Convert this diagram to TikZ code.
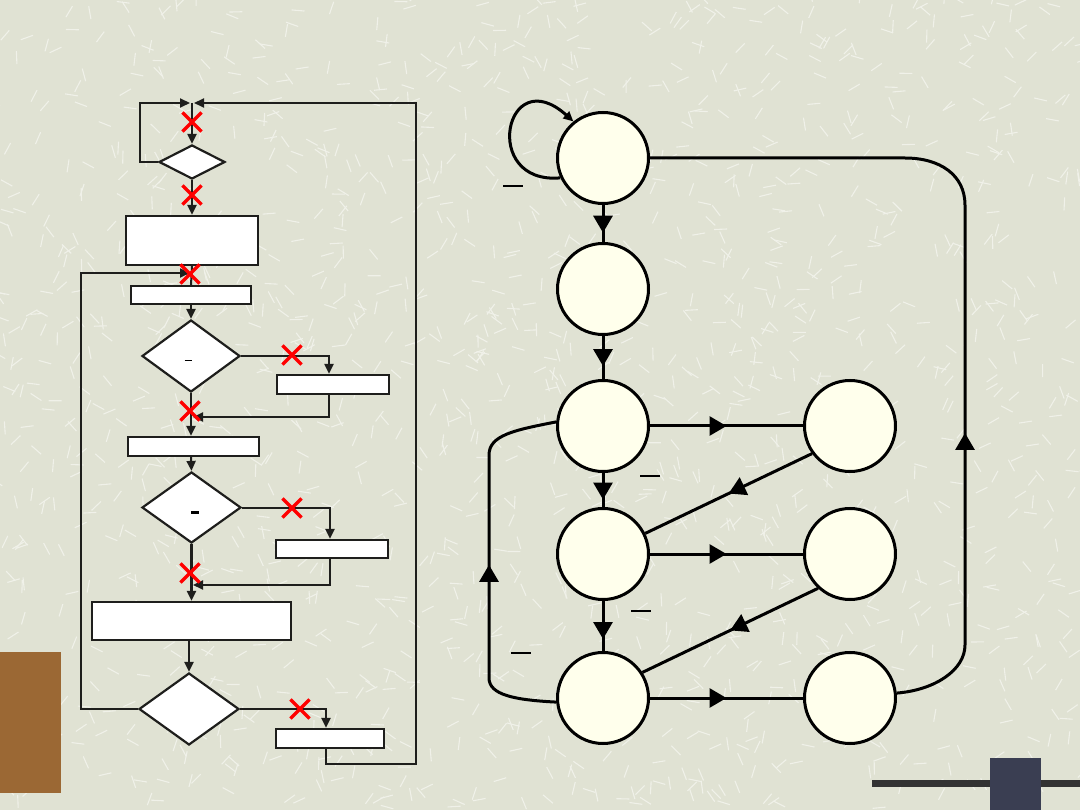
\documentclass[tikz,border=0pt]{standalone}
\usepackage{xcolor}
\usepackage{tikz}
\usetikzlibrary{automata, positioning, shapes.geometric, shapes.misc, arrows.meta, decorations.markings}

\definecolor{paper}{RGB}{224,226,211}
\definecolor{streakcol}{RGB}{240,241,233}
\definecolor{cream}{RGB}{255,255,236}
\definecolor{ink}{RGB}{30,30,28}
\definecolor{crossred}{RGB}{255,0,0}
\definecolor{tabbrown}{RGB}{155,104,52}
\definecolor{bardark}{RGB}{51,51,51}
\definecolor{sqnavy}{RGB}{58,62,82}

\tikzset{
  streak/.style={draw=streakcol, line width=1.1pt},
  flow/.style={draw=ink, line width=2pt},
  flowarr/.style={flow, -{Triangle[length=10pt,width=9pt]}},
  box/.style={rectangle, draw=ink, fill=white, line width=2.2pt, inner sep=0pt},
  decision/.style={diamond, draw=ink, fill=white, line width=2.2pt, inner sep=0pt},
  cut/.style={cross out, draw=crossred, line width=3.2pt, minimum size=16pt, inner sep=0pt},
  every state/.style={draw=black, fill=cream, line width=3pt, minimum size=91pt, inner sep=0pt},
  trans/.style={draw=black, line width=3pt},
  midarrow/.style={trans, postaction={decorate}, decoration={markings, mark=at position #1 with {\arrow{Triangle[length=17pt,width=19pt]}}}},
  bar/.style={inner sep=0pt, outer sep=0pt}
}

\begin{document}
\begin{tikzpicture}[x=1pt, y=-1pt]
    \fill[paper] (0,0) rectangle (1080,810);
    \useasboundingbox (0,0) rectangle (1080,810);
    % paper texture
    \pgfmathsetseed{7}
    \foreach \k in {1,...,1600}{
        \pgfmathsetmacro{\px}{rnd*1080}
        \pgfmathsetmacro{\py}{rnd*810}
        \pgfmathsetmacro{\pa}{rnd*180}
        \draw[streak] (\px,\py) -- ++(\pa:13pt);
    }
    \fill[tabbrown] (0,652) rectangle (61,793);
    \fill[bardark] (872,780) rectangle (1080,787);
    \fill[sqnavy] (990,758) rectangle (1041,810);

    % flowchart
    \coordinate (top) at (192,103);
    \node[decision, minimum width=66pt, minimum height=34pt] (d1) at (192,162) {};
    \node[box, minimum width=132pt, minimum height=49pt] (b1) at (192,240.5) {};
    \node[box, minimum width=120pt, minimum height=18pt] (b2) at (191,295) {};
    \node[decision, minimum width=98pt, minimum height=72pt] (d2) at (191,356) {};
    \node[box, minimum width=112pt, minimum height=19pt] (b3) at (333,384.5) {};
    \node[box, minimum width=131pt, minimum height=19pt] (b4) at (193.5,446.5) {};
    \node[decision, minimum width=99pt, minimum height=71pt] (d3) at (191.5,507.5) {};
    \node[box, minimum width=112pt, minimum height=18pt] (b5) at (332,549) {};
    \node[box, minimum width=199pt, minimum height=38pt] (b6) at (191.5,621) {};
    \node[decision, minimum width=100pt, minimum height=72pt] (d4) at (189,709) {};
    \node[box, minimum width=108pt, minimum height=19pt] (b7) at (330,738.5) {};
    \node[bar] (d2lab) at (188,360) {\rule{7pt}{0.8pt}};
    \node[bar] (d3lab) at (195,512) {\rule{8pt}{3pt}};
    \coordinate (m1) at (191,417);
    \coordinate (m2) at (191,585);
    \coordinate (m3) at (190,273);

    \draw[flowarr] (d1.west) -- ++(-18,0) |- ([xshift=-2pt]top);
    \draw[flowarr] (top) -- (d1.north);
    \draw[flowarr] (d1.south) -- (b1.north);
    \draw[flow] (b1.south) -- (b2.north);
    \draw[flowarr] (b2.south) -- (d2.north);
    \draw[flowarr] (d2.east) -| ([xshift=-4pt]b3.north);
    \draw[flowarr] ([xshift=-4pt]b3.south) |- ([xshift=2pt]m1);
    \draw[flowarr] (d2.south) -- (d2.south |- b4.north);
    \draw[flowarr] (d2.south |- b4.south) -- (d3.north);
    \draw[flowarr] (d3.east) -| ([xshift=-2pt]b5.north);
    \draw[flowarr] ([xshift=-2pt]b5.south) |- ([xshift=2pt]m2);
    \draw[flowarr, line width=3pt] (d3.south) -- (d3.south |- b6.north);
    \draw[flowarr] (d4.north |- b6.south) -- (d4.north);
    \draw[flowarr] (d4.west) -- ++(-57,0) |- (m3);
    \draw[flowarr] (d4.east) -| ([xshift=-4pt]b7.north);
    \draw[flowarr] ([xshift=-4pt]b7.south) -- ++(0,15) -- ++(90,0) |- ([xshift=2pt]top);

    \node[cut] (x1) at (192,122) {};
    \node[cut] (x2) at (192,195) {};
    \node[cut] (x3) at (190,274) {};
    \node[cut] (x4) at (292,355) {};
    \node[cut] (x5) at (190,411) {};
    \node[cut] (x6) at (292,508) {};
    \node[cut] (x7) at (190,573) {};
    \node[cut] (x8) at (300,709) {};

    % state graph
    \node[state] (S1) at (603,158) {};
    \node[state, below=37pt of S1] (S2) {};
    \node[state, below=43pt of S2] (S3) {};
    \node[state, below=34pt of S3] (S4) {};
    \node[state, below=50pt of S4] (S5) {};
    \node[state, right=153pt of S3] (R1) {};
    \node[state, right=153pt of S4] (R2) {};
    \node[state, right=153pt of S5] (R3) {};

    \path
    (S1) edge[midarrow=0.75] (S2)
    (S2) edge[midarrow=0.7] (S3)
    (S3) edge[midarrow=0.78] (S4)
    (S4) edge[midarrow=0.76] (S5)
    (S3) edge[midarrow=0.5] (R1)
    (S4) edge[midarrow=0.5] (R2)
    (S5) edge[midarrow=0.5] (R3)
    (R1.216) edge[midarrow=0.5] (S4.26)
    (R2.227) edge[midarrow=0.5] (S5.33);

    \draw[trans, -{Triangle[length=10pt,width=9pt]}] (S1.205) .. controls (480,185) and (505,60) .. (S1.129);
    \draw[midarrow=303pt] (R3.6) .. controls (935,690) and (965,670) .. (965,645)
        -- (965,205) .. controls (965,175) and (940,158) .. (905,158) -- (S1.east);
    \draw[midarrow=190pt] (S5.185) .. controls (515,700) and (489,695) .. (489,678)
        -- (489,455) .. controls (489,435) and (515,430) .. (S3.175);

    \node[bar] (n1) at (513,186) {\rule{20pt}{1.5pt}};
    \node[bar] (n2) at (650,476) {\rule{20pt}{1.5pt}};
    \node[bar] (n3) at (641,611) {\rule{20pt}{1.5pt}};
    \node[bar] (n4) at (521,653) {\rule{20pt}{1.5pt}};
\end{tikzpicture}
\end{document}
